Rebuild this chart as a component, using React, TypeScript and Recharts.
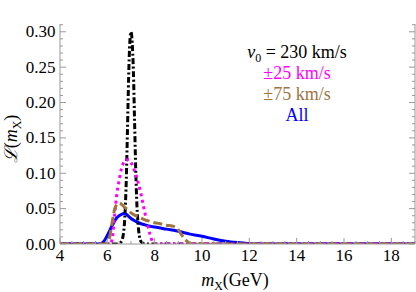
import React from "react";
import { LineChart, Line, XAxis, YAxis } from "recharts";

// ---- data ----
const blackX = [4, 6.4, 6.5, 6.6, 6.7, 6.75, 6.8, 6.85, 6.9, 6.95, 7.0, 7.05, 7.1, 7.15, 7.2, 7.25, 7.3, 7.4, 7.5, 7.6, 19];
const blackY = [0, 0, 0.001, 0.004, 0.02, 0.045, 0.09, 0.16, 0.235, 0.285, 0.3, 0.285, 0.245, 0.175, 0.105, 0.055, 0.028, 0.005, 0.001, 0, 0];

const magentaX = [4, 6.1, 6.2, 6.3, 6.4, 6.5, 6.6, 6.7, 6.8, 6.9, 7.0, 7.1, 7.2, 7.3, 7.4, 7.5, 7.6, 7.7, 7.8, 7.9, 8.0, 19];
const magentaY = [0, 0, 0.006, 0.038, 0.07, 0.09, 0.107, 0.116, 0.119, 0.119, 0.115, 0.108, 0.098, 0.087, 0.074, 0.058, 0.042, 0.028, 0.014, 0.004, 0, 0];

const brownX = [4, 5.9, 6.0, 6.1, 6.2, 6.3, 6.4, 6.5, 6.6, 6.7, 6.8, 6.9, 7.0, 7.2, 7.4, 7.6, 7.8, 8.0, 8.2, 8.4, 8.6, 8.8, 9.0, 9.1, 9.2, 9.3, 9.4, 9.5, 9.6, 19];
const brownY = [0, 0, 0.002, 0.01, 0.03, 0.048, 0.056, 0.058, 0.056, 0.053, 0.05, 0.047, 0.044, 0.04, 0.037, 0.034, 0.032, 0.03, 0.029, 0.027, 0.026, 0.025, 0.02, 0.015, 0.01, 0.006, 0.003, 0.001, 0, 0];

const blueX = [4, 5.7, 5.8, 5.9, 6.0, 6.1, 6.2, 6.3, 6.4, 6.5, 6.6, 6.7, 6.8, 6.9, 7.0, 7.2, 7.4, 7.6, 7.8, 8.0, 8.5, 9.0, 9.5, 10.0, 10.5, 11.0, 11.5, 12.0, 12.2, 19];
const blueY = [0, 0, 0.002, 0.006, 0.012, 0.019, 0.026, 0.032, 0.037, 0.04, 0.042, 0.043, 0.042, 0.039, 0.036, 0.032, 0.029, 0.027, 0.025, 0.024, 0.021, 0.018, 0.014, 0.011, 0.007, 0.004, 0.002, 0.0005, 0, 0];

const xMajorTicks = [4, 6, 8, 10, 12, 14, 16, 18];
const yMajorTicks = [0, 0.05, 0.1, 0.15, 0.2, 0.25, 0.3];

const legendLines = ["±25 km/s", "±75 km/s", "All"];

// ---- helpers ----
const zip = (xs: number[], ys: number[]) => xs.map((x, i) => ({ x, y: ys[i] }));
const blackData = zip(blackX, blackY);
const magentaData = zip(magentaX, magentaY);
const brownData = zip(brownX, brownY);
const blueData = zip(blueX, blueY);

const xTicks: number[] = [];
for (let i = 0; i <= 30; i++) xTicks.push(4 + i * 0.5);
const yTicks: number[] = [];
for (let i = 0; i <= 31; i++) yTicks.push(i / 100);

const FRAME = "#999999";
const BROWN = "#a0743f";
const FONT = "Liberation Serif";

const isXMajor = (v: number) => xMajorTicks.some((t) => Math.abs(t - v) < 1e-6);
const isYMajor = (v: number) => yMajorTicks.some((t) => Math.abs(t - v) < 1e-6);

const XTickBottom = (p: any) => {
  const { x, y, payload } = p;
  const v = payload.value;
  const major = isXMajor(v);
  return (
    <g>
      <line x1={x} x2={x} y1={y} y2={y - (major ? 6 : 3)} stroke={FRAME} strokeWidth={1} />
      {major && (
        <text x={x} y={y + 17} textAnchor="middle" fontSize={17} fontFamily={FONT} fill="#000">
          {v}
        </text>
      )}
    </g>
  );
};

const XTickTop = (p: any) => {
  const { x, y, payload } = p;
  const major = isXMajor(payload.value);
  return <line x1={x} x2={x} y1={y} y2={y + (major ? 6 : 3)} stroke={FRAME} strokeWidth={1} />;
};

const YTickLeft = (p: any) => {
  const { x, y, payload } = p;
  const v = payload.value;
  const major = isYMajor(v);
  return (
    <g>
      <line x1={x} x2={x + (major ? 6 : 3)} y1={y} y2={y} stroke={FRAME} strokeWidth={1} />
      {major && (
        <text x={x - 4.5} y={y + 5.6} textAnchor="end" fontSize={17} fontFamily={FONT} fill="#000">
          {v.toFixed(2)}
        </text>
      )}
    </g>
  );
};

const YTickRight = (p: any) => {
  const { x, y, payload } = p;
  const major = isYMajor(payload.value);
  return <line x1={x} x2={x - (major ? 6 : 3)} y1={y} y2={y} stroke={FRAME} strokeWidth={1} />;
};

export default function App() {
  const W = 416;
  const H = 292;
  return (
    <div style={{ position: "absolute", left: 0, top: 0, width: W, height: H, background: "#fff", fontFamily: FONT }}>
      <LineChart width={W} height={H} margin={{ top: 24, right: 0, bottom: 0, left: 0 }}>
        <XAxis
          xAxisId="b"
          type="number"
          dataKey="x"
          domain={[4, 19]}
          ticks={xTicks}
          interval={0}
          tickSize={0}
          tickMargin={0}
          tick={<XTickBottom />}
          tickLine={false}
          axisLine={{ stroke: FRAME }}
          height={48}
          allowDataOverflow
        />
        <XAxis
          xAxisId="t"
          orientation="top"
          type="number"
          dataKey="x"
          domain={[4, 19]}
          ticks={xTicks}
          interval={0}
          tickSize={0}
          tickMargin={0}
          tick={<XTickTop />}
          tickLine={false}
          axisLine={{ stroke: FRAME }}
          height={0}
          allowDataOverflow
        />
        <YAxis
          yAxisId="l"
          type="number"
          domain={[0, 0.311]}
          ticks={yTicks}
          interval={0}
          tickSize={0}
          tickMargin={0}
          tick={<YTickLeft />}
          tickLine={false}
          axisLine={{ stroke: FRAME }}
          width={60}
          allowDataOverflow
        />
        <YAxis
          yAxisId="r"
          orientation="right"
          type="number"
          domain={[0, 0.311]}
          ticks={yTicks}
          interval={0}
          tickSize={0}
          tickMargin={0}
          tick={<YTickRight />}
          tickLine={false}
          axisLine={{ stroke: FRAME }}
          width={1}
          allowDataOverflow
        />
        <Line xAxisId="b" yAxisId="l" data={blueData} dataKey="y" type="monotone" stroke="#0000ff" strokeWidth={3} dot={false} isAnimationActive={false} />
        <Line xAxisId="b" yAxisId="l" data={blackData} dataKey="y" type="monotone" stroke="#000000" strokeWidth={3} strokeDasharray="6 2.5 2 2.5" dot={false} isAnimationActive={false} />
        <Line xAxisId="b" yAxisId="l" data={magentaData} dataKey="y" type="monotone" stroke="#ff00ff" strokeWidth={3} strokeDasharray="3 3.5" dot={false} isAnimationActive={false} />
        <Line xAxisId="b" yAxisId="l" data={brownData} dataKey="y" type="monotone" stroke={BROWN} strokeWidth={3} strokeDasharray="9 4" dot={false} isAnimationActive={false} />
      </LineChart>
      <svg width={W} height={H} style={{ position: "absolute", left: 0, top: 0, pointerEvents: "none" }} fontFamily={FONT}>
        <text x={297} y={58} textAnchor="middle" fontSize={18} fill="#000">
          <tspan fontStyle="italic">v</tspan>
          <tspan fontSize={12} dy={4}>0</tspan>
          <tspan dy={-4}> = 230 km/s</tspan>
        </text>
        <text x={297} y={79} textAnchor="middle" fontSize={18} fill="#ff00ff">{legendLines[0]}</text>
        <text x={297} y={100} textAnchor="middle" fontSize={18} fill={BROWN}>{legendLines[1]}</text>
        <text x={297} y={121} textAnchor="middle" fontSize={18} fill="#0000ff">{legendLines[2]}</text>
        <text x={235} y={286} textAnchor="middle" fontSize={18} fill="#000">
          <tspan fontStyle="italic">m</tspan>
          <tspan fontSize={12} dy={4}>X</tspan>
          <tspan dy={-4}>(GeV)</tspan>
        </text>
        <text x={17} y={139} transform="rotate(-90, 17, 139)" textAnchor="middle" fontSize={18} fill="#000">
          <tspan fontStyle="italic">ℒ</tspan>
          <tspan>(</tspan>
          <tspan fontStyle="italic">m</tspan>
          <tspan fontSize={12} dy={4}>X</tspan>
          <tspan dy={-4}>)</tspan>
        </text>
      </svg>
    </div>
  );
}
